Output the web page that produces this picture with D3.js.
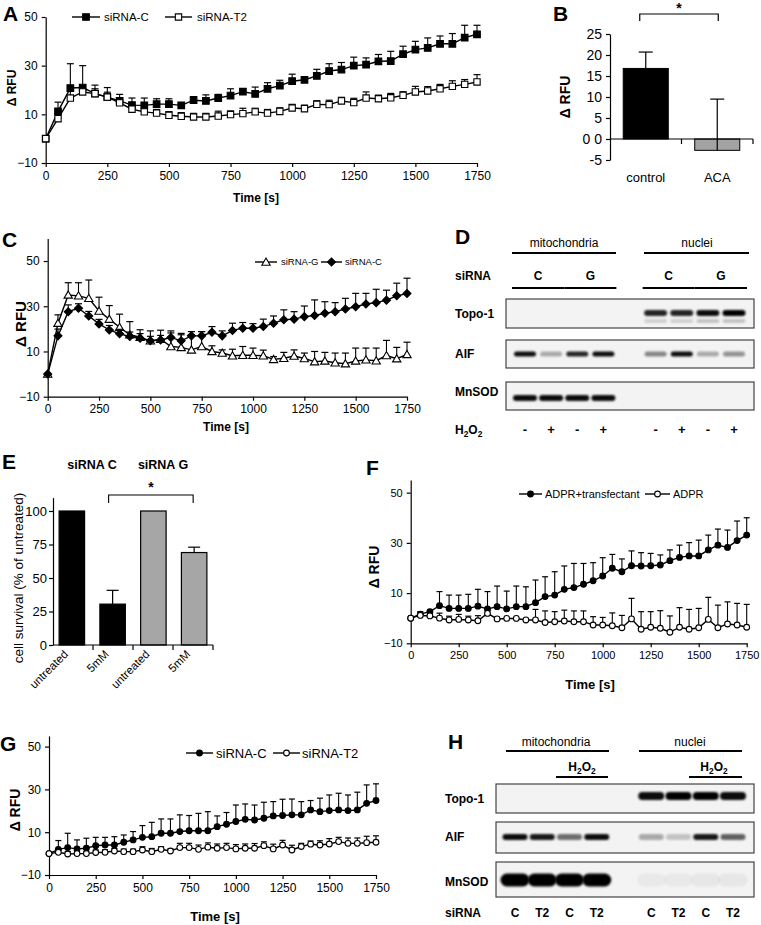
<!DOCTYPE html>
<html><head><meta charset="utf-8">
<script src="https://cdn.jsdelivr.net/npm/d3@7"></script>
<style>body{margin:0;background:#fff}svg{display:block}text{font-family:"Liberation Sans",Arial,sans-serif}</style>
</head><body><svg id="c" width="761" height="925"></svg>
<script>
// ---------- DATA ----------
const timeS = [0,50,100,150,200,250,300,350,400,450,500,550,600,650,700,750,800,850,900,950,1000,1050,1100,1150,1200,1250,1300,1350,1400,1450,1500,1550,1600,1650,1700,1750];
const timeTicks = [0,250,500,750,1000,1250,1500,1750];
const rfuTicks = [-10,10,30,50];

// Panel A
const aSiC   = [0,11.2,20.8,21,18.5,17.1,15.5,13.8,13.7,14.2,14.2,13.7,15.8,15.5,16.7,17.7,19.3,18.4,20.5,21.8,23.6,24.2,25.8,27.8,28.4,30,30.4,31.8,31.9,34.7,36.6,37.3,39,39,41.5,42.9];
const aSiCErr= [0,3.8,10,9,3.5,3.9,2.7,2.9,3,2.2,2.2,1,1.5,2.5,1.5,2.8,1.2,2.8,2.5,2.2,2.9,1,2.7,3,2.9,3.5,2.8,2.8,4,3.3,3.4,4.1,3.2,4.2,5.1,3.7];
const aSiT2  = [0,8.2,16.7,19.2,18.5,17.1,14.7,12.1,11,10.5,9.6,9.2,8.9,8.9,9.3,9.9,10.3,11,10.5,11.2,12.6,12.3,14.1,14,15.5,14.8,16.7,16.4,16.8,17.8,19.2,19.6,20.5,21.5,22.3,23.3];
const aSiT2Err=[0,2,3,2,2,2,1.5,1.5,1.5,1.5,1.5,1.5,1.5,1.5,2,1.5,2.2,1.5,1.5,1.5,1.5,1.5,1.5,1.8,1.5,1.8,2.5,1.5,1.8,1.5,2.3,1.8,1.8,2.3,2,3];

// Panel B
const bCats = ["control","ACA"];
const bVals = [16.8,-2.7];
const bErr  = [3.9,12.2];
const bTicks = [-5,0,5,10,15,20,25];

// Panel C
const cSiG   = [0,22.5,35,34.6,33.5,27.9,24.3,20.7,17.4,16.3,14.7,15.4,12.2,11.8,10.7,12.2,10,9.3,8.1,8.3,8.3,8.1,6.5,7,8,6.9,5.5,5.8,5,4.6,5.8,6.3,5.9,8.2,6.8,8.7];
const cSiGErr= [0,3.7,5.4,5.8,8.1,6.1,6,5.8,5.8,3.3,4.4,4,6.9,5.6,6.7,6.6,2.5,1.4,2.9,3.9,3.2,2.5,1.2,2.6,2.7,2.4,4.5,3.8,4.3,4.7,5.7,5.2,5.6,6.7,5,5.4];
const cSiC   = [0,16.9,27.6,29.1,25.7,22.2,19.5,17.8,16.6,15.9,14.7,15.1,16.2,14.7,16.9,16.9,18.5,16.9,19.3,20.3,20.3,21,22.5,24,24.3,25.4,25.9,26.9,27.6,28.8,29.8,31,31.6,32.7,34.6,35.6];
const cSiCErr= [0,3,3,2,2,2,2,2,2,2,2,2,2,3.3,1.9,1.9,2.5,2.2,3.2,2.5,2,3.3,3.2,4.4,3.3,4.7,6.9,5.1,4,4.7,5.9,4.7,5.9,4.4,5.6,6.8];

// Panel D (band intensities per lane)
const dLanes = ["m1","m2","m3","m4","gap","n1","n2","n3","n4"];
const dSiRNA = ["C","G","C","G"];
const dH2O2  = ["-","+","-","+","-","+","-","+"];
const dTopo  = [0,0,0,0,0.85,0.85,0.95,1];
const dTopoLow=[0,0,0,0,0.15,0.15,0.2,0.2];
const dAIF   = [0.95,0.3,0.85,0.95,0.45,0.95,0.3,0.4];
const dMnSOD = [0.95,0.95,0.95,0.95,0,0,0,0];

// Panel E
const eLabels = ["untreated","5mM","untreated","5mM"];
const eGroups = ["siRNA C","siRNA C","siRNA G","siRNA G"];
const eVals = [100,30.5,100,69];
const eErr  = [0.3,10.3,0,4];
const eTicks = [0,25,50,75,100];

// Panel F
const fTrans   = [0,1.6,2.6,5,3.9,3.9,3.9,4.8,3.7,4.6,3.7,4.6,4.6,6.2,8.6,9.2,11.5,12.2,13.5,14.9,16.8,19.9,18.5,20.9,20.8,20.9,21.2,22.9,24.2,24.8,24.8,27.2,29.1,28.2,30.9,33.1];
const fTransErr= [0,1,0.5,5.6,5.3,5.3,5.6,6.7,6.9,8.2,7.1,8.2,7.9,9,7.9,9.3,9.3,9.6,8.3,7.2,7.3,5.5,5.1,5.9,5.3,4.9,4,4.3,4.9,5.3,6.3,5.9,6.4,6.9,7.8,6.9];
const fADPR    = [0,1.1,0.9,0,-0.7,-0.5,-0.7,-1,1.9,-0.3,-0.1,-0.1,-0.7,-0.7,-1.7,-1.4,-1.1,-1.4,-1.4,-2.7,-2.7,-3,-3.8,-0.3,-4.4,-3.6,-4,-5.6,-3.6,-4.4,-3.8,-0.5,-3.8,-2.3,-2.7,-3.6];
const fADPRErr = [0,0,0.5,2,1.5,2,1.5,2,1,0,0,0,0,4.2,4.6,4,4.3,4.3,4.3,3.3,3,5.1,4.9,8.2,7,6.2,7,6.5,7.8,7.9,7.7,8.8,9,8.8,8.6,9.1];

// Panel G
const gSiC   = [0,2,2.8,2.2,2.5,3.7,4,4,5.3,6.4,7.6,7.9,9.5,9.5,10.3,10.7,10.7,10.7,12.6,13.7,15,16,15.7,16.5,17.6,17.8,18.1,18.1,20.4,19.6,20.1,20.4,20.1,20.4,23.5,24.8];
const gSiCErr= [0,4.1,6.7,4.2,4.7,3.9,3.6,3.9,3.4,3.9,5.5,6.7,6.7,6.7,7.8,7.1,8.1,8.9,5,5.5,7.7,7.2,7,7.5,6.7,7.6,7.4,6.2,4.4,6.3,7.3,7.8,7.3,8.3,8.6,7.8];
const gSiT2  = [0,0.6,-0.2,0,0,0.5,0.6,1.2,0.9,0.9,1.7,0.9,2,1.2,2.8,2.8,2,3,2.5,2.8,2.2,2.5,2.5,3.7,2.2,4,1.7,3.3,4.4,4,4.5,5.6,4.8,4.8,5.1,5.3];
const gSiT2Err=[0,1,1.2,1,1,1.2,1.2,1.2,1.2,1.2,1.5,1.5,1.2,1,2,2,2,2,2,2,2,2,2.2,1.8,2.2,2.2,2.2,1.5,1.5,2,2.5,2,2.5,2.5,3,3];

// Panel H
const hLanes = ["m1","m2","m3","m4","gap","n1","n2","n3","n4"];
const hSiRNA = ["C","T2","C","T2","C","T2","C","T2"];
const hTopo  = [0,0,0,0,0.95,1,1,0.95];
const hAIF   = [0.95,0.9,0.55,0.95,0.3,0.2,0.9,0.6];
const hMnSOD = [1,1,1,1,0.04,0.04,0.05,0.05];

// ---------- DRAW ----------
const FONT = "Liberation Sans, Arial, sans-serif";
const svg = d3.select("#c");
const defs = svg.append("defs");
defs.append("filter").attr("id","blur").attr("x","-30%").attr("y","-80%").attr("width","160%").attr("height","260%")
  .append("feGaussianBlur").attr("stdDeviation",1.2);

function letter(t,x,y){
  svg.append("text").attr("x",x).attr("y",y).attr("font-size",21).attr("font-weight","bold").text(t);
}
function styleAxis(g,size){
  g.attr("font-family",FONT).attr("font-size",size);
  g.selectAll("path,line").attr("stroke","#000").attr("stroke-width",1.2);
  g.selectAll("text").attr("fill","#000");
}
function symbolPath(kind,size){
  if(kind==="square") return d3.symbol(d3.symbolSquare,size)();
  if(kind==="triangle") return d3.symbol(d3.symbolTriangle,size)();
  if(kind==="diamond") return d3.symbol(d3.symbolSquare,size)();
  return d3.symbol(d3.symbolCircle,size)();
}
function drawMarker(g,kind,size,fill,x,y){
  const p = g.append("path").attr("d",symbolPath(kind,size))
    .attr("fill",fill).attr("stroke","#000").attr("stroke-width",1.1);
  p.attr("transform",`translate(${x},${y})`+(kind==="diamond"?" rotate(45)":"")+(kind==="triangle"?" translate(0,0.8)":""));
}
const fmt = d3.format("d");

function linePanel(cfg){
  const x = d3.scaleLinear().domain([0,1750]).range(cfg.xr);
  const y = d3.scaleLinear().domain(cfg.yd).range(cfg.yr);
  const g = svg.append("g");
  const ya = g.append("g").attr("transform",`translate(${cfg.xr[0]},0)`)
    .call(d3.axisLeft(y).tickValues(rfuTicks).tickFormat(fmt).tickSize(4).tickPadding(4).tickSizeOuter(0));
  styleAxis(ya,cfg.tick);
  const xa = g.append("g").attr("transform",`translate(0,${y(cfg.yd[0])})`)
    .call(d3.axisBottom(x).tickValues(timeTicks).tickFormat(fmt).tickSize(4).tickPadding(4).tickSizeOuter(0));
  styleAxis(xa,cfg.tick);
  cfg.series.forEach(s=>{
    const sg = g.append("g");
    timeS.forEach((t,i)=>{
      if(!s.err[i]) return;
      const xx=x(t), y0=y(s.vals[i]), y1=y(s.vals[i]+s.err[i]);
      sg.append("line").attr("x1",xx).attr("x2",xx).attr("y1",y0).attr("y2",y1).attr("stroke","#000").attr("stroke-width",1.1);
      sg.append("line").attr("x1",xx-cfg.cap/2).attr("x2",xx+cfg.cap/2).attr("y1",y1).attr("y2",y1).attr("stroke","#000").attr("stroke-width",1.2);
    });
    sg.append("path").attr("d",d3.line().x((d,i)=>x(timeS[i])).y(d=>y(d))(s.vals))
      .attr("fill","none").attr("stroke","#000").attr("stroke-width",1.4);
    s.vals.forEach((v,i)=>drawMarker(sg,s.sym,s.size,s.fill,x(timeS[i]),y(v)));
  });
  cfg.legend.forEach(l=>{
    const s = cfg.series[l.s];
    g.append("line").attr("x1",l.x1).attr("x2",l.x2).attr("y1",cfg.ly).attr("y2",cfg.ly).attr("stroke","#000").attr("stroke-width",1.4);
    drawMarker(g,s.sym,s.size,s.fill,(l.x1+l.x2)/2,cfg.ly);
    g.append("text").attr("x",l.tx).attr("y",cfg.ly).attr("dy","0.35em").attr("font-size",cfg.lf).text(l.label);
  });
  g.append("text").attr("transform",`translate(${cfg.yl[0]},${cfg.yl[1]}) rotate(-90)`).attr("text-anchor","middle")
    .attr("font-size",cfg.yl[2]).attr("font-weight","bold").text("Δ RFU");
  g.append("text").attr("x",cfg.xl[0]).attr("y",cfg.xl[1]).attr("text-anchor","middle")
    .attr("font-size",cfg.xl[2]).attr("font-weight","bold").text("Time [s]");
}

// A
linePanel({xr:[45.7,477], yd:[-10,50], yr:[163,17], tick:12, cap:7,
  series:[{vals:aSiC,err:aSiCErr,sym:"square",size:44,fill:"#000"},{vals:aSiT2,err:aSiT2Err,sym:"square",size:40,fill:"#fff"}],
  ly:17, lf:11.5, legend:[{s:0,x1:72,x2:100,tx:104,label:"siRNA-C"},{s:1,x1:165,x2:192,tx:197,label:"siRNA-T2"}],
  yl:[16,88,12], xl:[256,202,12]});
letter("A",3,21);

// C
linePanel({xr:[47.7,407], yd:[-10,60], yr:[396.7,238.4], tick:12, cap:7,
  series:[{vals:cSiG,err:cSiGErr,sym:"triangle",size:30,fill:"#fff"},{vals:cSiC,err:cSiCErr,sym:"diamond",size:32,fill:"#000"}],
  ly:262, lf:9.5, legend:[{s:0,x1:255,x2:277,tx:281,label:"siRNA-G"},{s:1,x1:321,x2:342,tx:345,label:"siRNA-C"}],
  yl:[26,324,15], xl:[226,431,12]});
letter("C",2,247);

// F
linePanel({xr:[410.7,746.7], yd:[-10,55], yr:[643.3,480.1], tick:11, cap:6,
  series:[{vals:fTrans,err:fTransErr,sym:"circle",size:26,fill:"#000"},{vals:fADPR,err:fADPRErr,sym:"circle",size:26,fill:"#fff"}],
  ly:494, lf:11, legend:[{s:0,x1:519,x2:542,tx:545,label:"ADPR+transfectant"},{s:1,x1:645,x2:670,tx:673,label:"ADPR"}],
  yl:[379,567,14], xl:[590,689,13]});
letter("F",366,475);

// G
linePanel({xr:[49,376], yd:[-10,55], yr:[875,735.9], tick:12, cap:6,
  series:[{vals:gSiC,err:gSiCErr,sym:"circle",size:26,fill:"#000"},{vals:gSiT2,err:gSiT2Err,sym:"circle",size:26,fill:"#fff"}],
  ly:753, lf:13, legend:[{s:0,x1:186,x2:213,tx:216,label:"siRNA-C"},{s:1,x1:273,x2:300,tx:302,label:"siRNA-T2"}],
  yl:[20,810,14], xl:[215,921,13]});
letter("G",0,751);

// B
(function(){
  const g = svg.append("g");
  const x = d3.scaleBand().domain(bCats).range([610,753]).paddingInner(0.37).paddingOuter(0.185);
  const y = d3.scaleLinear().domain([-5,25]).range([160,34]);
  const ya = g.append("g").attr("transform","translate(610,0)")
    .call(d3.axisLeft(y).tickValues(bTicks).tickSize(4).tickPadding(4).tickSizeOuter(0).tickFormat(d=>d===0?"0 0":d));
  styleAxis(ya,14);
  g.selectAll("rect.bar").data(bCats).join("rect").attr("class","bar")
    .attr("x",d=>x(d)).attr("width",x.bandwidth())
    .attr("y",(d,i)=>Math.min(y(0),y(bVals[i]))).attr("height",(d,i)=>Math.abs(y(bVals[i])-y(0)))
    .attr("fill",(d,i)=>i===0?"#000":"#a3a3a3").attr("stroke","#000").attr("stroke-width",1);
  bCats.forEach((c,i)=>{
    const cx = x(c)+x.bandwidth()/2, y1 = y(bVals[i]+bErr[i]), yb = y(bVals[i]);
    g.append("line").attr("x1",cx).attr("x2",cx).attr("y1",yb).attr("y2",y1).attr("stroke","#000").attr("stroke-width",1.2);
    g.append("line").attr("x1",cx-7).attr("x2",cx+7).attr("y1",y1).attr("y2",y1).attr("stroke","#000").attr("stroke-width",1.2);
    g.append("text").attr("x",cx).attr("y",182).attr("text-anchor","middle").attr("font-size",13).text(c);
  });
  const step = x.step();
  g.append("line").attr("x1",610).attr("x2",753).attr("y1",y(0)).attr("y2",y(0)).attr("stroke","#000").attr("stroke-width",1.2);
  bCats.forEach((c,i)=>{
    const bx = 610 + (i+1)*step;
    g.append("line").attr("x1",bx).attr("x2",bx).attr("y1",y(0)).attr("y2",y(0)+5).attr("stroke","#000").attr("stroke-width",1.2);
  });
  const c0 = x(bCats[0])+x.bandwidth()/2 - 6, c1 = x(bCats[1])+x.bandwidth()/2 + 1;
  g.append("path").attr("d",`M${c0},21V14H${c1}V21`).attr("fill","none").attr("stroke","#000").attr("stroke-width",1.2);
  g.append("text").attr("x",(c0+c1)/2).attr("y",13).attr("text-anchor","middle").attr("font-size",14).attr("font-weight","bold").text("*");
  g.append("text").attr("transform","translate(570,97) rotate(-90)").attr("text-anchor","middle")
    .attr("font-size",14).attr("font-weight","bold").text("Δ RFU");
})();
letter("B",553,21);

// E
(function(){
  const g = svg.append("g");
  const idx = eVals.map((d,i)=>i);
  const x = d3.scaleBand().domain(idx).range([53,213]).paddingInner(0.375).paddingOuter(0.15);
  const y = d3.scaleLinear().domain([0,110]).range([645,497.6]);
  const ya = g.append("g").attr("transform","translate(53,0)")
    .call(d3.axisLeft(y).tickValues(eTicks).tickSize(4).tickPadding(2).tickSizeOuter(0));
  styleAxis(ya,13);
  g.selectAll("rect.bar").data(idx).join("rect").attr("class","bar")
    .attr("x",i=>x(i)).attr("width",x.bandwidth()).attr("y",i=>y(eVals[i])).attr("height",i=>y(0)-y(eVals[i]))
    .attr("fill",i=>eGroups[i]==="siRNA C"?"#000":"#a6a6a6").attr("stroke","#000").attr("stroke-width",1.2);
  idx.forEach(i=>{
    const cx = x(i)+x.bandwidth()/2;
    if(eErr[i]>0.5){
      const y1 = y(eVals[i]+eErr[i]);
      g.append("line").attr("x1",cx).attr("x2",cx).attr("y1",y(eVals[i])).attr("y2",y1).attr("stroke","#000").attr("stroke-width",1.2);
      g.append("line").attr("x1",cx-6).attr("x2",cx+6).attr("y1",y1).attr("y2",y1).attr("stroke","#000").attr("stroke-width",1.2);
    }
    g.append("text").attr("text-anchor","end").attr("font-size",11.5)
      .attr("transform",`translate(${cx-3},${655}) rotate(-45)`).text(eLabels[i]);
  });
  g.append("line").attr("x1",53).attr("x2",213).attr("y1",y(0)).attr("y2",y(0)).attr("stroke","#000").attr("stroke-width",1.2);
  d3.range(1,5).forEach(k=>{
    const bx = 53 + 160*k/4;
    g.append("line").attr("x1",bx).attr("x2",bx).attr("y1",y(0)).attr("y2",y(0)+5).attr("stroke","#000").attr("stroke-width",1.2);
  });
  [["siRNA C",92],["siRNA G",163]].forEach(([lab,px])=>{
    g.append("text").attr("x",px).attr("y",469).attr("text-anchor","middle").attr("font-size",12.5).attr("font-weight","bold").text(lab);
  });
  const c0 = x(1)+x.bandwidth()/2-4, c1 = x(3)+x.bandwidth()/2-1;
  g.append("path").attr("d",`M${c0},503V495H${c1}V503`).attr("fill","none").attr("stroke","#000").attr("stroke-width",1.1);
  g.append("text").attr("x",(c0+c1)/2).attr("y",492).attr("text-anchor","middle").attr("font-size",14).attr("font-weight","bold").text("*");
  g.append("text").attr("transform","translate(23,578) rotate(-90)").attr("text-anchor","middle")
    .attr("font-size",13.5).text("cell survival (% of untreated)");
})();
letter("E",2,469);

// Blots
function h2o2(g,x,y,size,anchor){
  const t = g.append("text").attr("x",x).attr("y",y).attr("font-size",size).attr("font-weight","bold").attr("text-anchor",anchor||"start");
  t.append("tspan").text("H");
  t.append("tspan").attr("font-size",size*0.7).attr("dy",3).text("2");
  t.append("tspan").attr("dy",-3).text("O");
  t.append("tspan").attr("font-size",size*0.7).attr("dy",3).text("2");
}
function bands(g,xs,lanes,vals,cy,bw,bh){
  lanes.filter(l=>l!=="gap").forEach((l,i)=>{
    if(vals[i]<=0) return;
    g.append("rect").attr("x",xs(l)-bw/2).attr("y",cy-bh/2).attr("width",bw).attr("height",bh).attr("rx",bh/2)
      .attr("fill","#000").attr("fill-opacity",vals[i]).attr("filter","url(#blur)");
  });
}
function hline(g,x1,x2,y){
  g.append("line").attr("x1",x1).attr("x2",x2).attr("y1",y).attr("y2",y).attr("stroke","#000").attr("stroke-width",2);
}

// D
(function(){
  const g = svg.append("g");
  const xs = d3.scalePoint().domain(dLanes).range([525,734]);
  g.append("text").attr("x",564).attr("y",247).attr("text-anchor","middle").attr("font-size",12).text("mitochondria");
  g.append("text").attr("x",697).attr("y",247).attr("text-anchor","middle").attr("font-size",12).text("nuclei");
  hline(g,512,616,253); hline(g,644,749,253);
  g.append("text").attr("x",455).attr("y",280).attr("font-size",12).attr("font-weight","bold").text("siRNA");
  const lanes = dLanes.filter(l=>l!=="gap");
  dSiRNA.forEach((s,k)=>{
    const a = xs(lanes[2*k]), b = xs(lanes[2*k+1]);
    g.append("text").attr("x",(a+b)/2).attr("y",280).attr("text-anchor","middle").attr("font-size",12).attr("font-weight","bold").text(s);
    hline(g,a-13,b+13,288);
  });
  const rows = [{lab:"Topo-1",y0:299,y1:328,ly:318},{lab:"AIF",y0:340,y1:368,ly:358},{lab:"MnSOD",y0:382,y1:410,ly:396}];
  rows.forEach(r=>{
    g.append("rect").attr("x",506).attr("y",r.y0).attr("width",248).attr("height",r.y1-r.y0).attr("fill","#f3f3f3").attr("stroke","#444").attr("stroke-width",1.2);
    g.append("text").attr("x",455).attr("y",r.ly).attr("font-size",12).attr("font-weight","bold").text(r.lab);
  });
  bands(g,xs,dLanes,dTopo,313,23,6);
  bands(g,xs,dLanes,dTopoLow,321,23,4);
  bands(g,xs,dLanes,dAIF,354,22,5);
  bands(g,xs,dLanes,dMnSOD,398,24,6);
  h2o2(g,455,434,12);
  lanes.forEach((l,i)=>g.append("text").attr("x",xs(l)).attr("y",434).attr("text-anchor","middle").attr("font-size",13).attr("font-weight","bold").text(dH2O2[i]));
})();
letter("D",455,244);

// H
(function(){
  const g = svg.append("g");
  const xs = d3.scalePoint().domain(hLanes).range([515,733]);
  g.append("text").attr("x",556).attr("y",746).attr("text-anchor","middle").attr("font-size",12).text("mitochondria");
  g.append("text").attr("x",690).attr("y",746).attr("text-anchor","middle").attr("font-size",12).text("nuclei");
  hline(g,506,609,751); hline(g,639,742,751);
  h2o2(g,582,771,12,"middle"); h2o2(g,714,771,12,"middle");
  hline(g,556,608,777); hline(g,689,742,777);
  const rows = [{lab:"Topo-1",y0:784,y1:813,ly:803},{lab:"AIF",y0:822,y1:853,ly:841},{lab:"MnSOD",y0:862,y1:897,ly:886}];
  rows.forEach(r=>{
    g.append("rect").attr("x",496).attr("y",r.y0).attr("width",258).attr("height",r.y1-r.y0).attr("fill","#f3f3f3").attr("stroke","#444").attr("stroke-width",1.2);
    g.append("text").attr("x",445).attr("y",r.ly).attr("font-size",12).attr("font-weight","bold").text(r.lab);
  });
  bands(g,xs,hLanes,hTopo,796,26,8);
  bands(g,xs,hLanes,hAIF,837,25,6);
  bands(g,xs,hLanes,hMnSOD,880,29,13);
  g.append("text").attr("x",445).attr("y",917).attr("font-size",12).attr("font-weight","bold").text("siRNA");
  hLanes.filter(l=>l!=="gap").forEach((l,i)=>g.append("text").attr("x",xs(l)).attr("y",917).attr("text-anchor","middle")
    .attr("font-size",12).attr("font-weight","bold").text(hSiRNA[i]));
})();
letter("H",448,749);
</script></body></html>
